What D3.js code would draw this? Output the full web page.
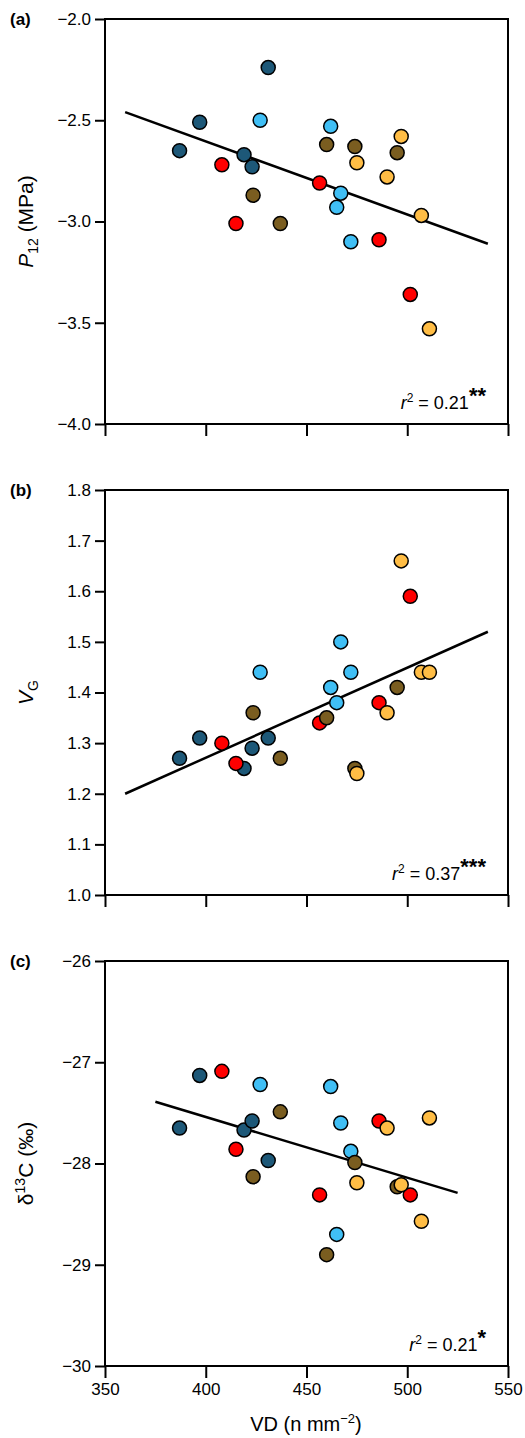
<!DOCTYPE html>
<html><head><meta charset="utf-8">
<script src="https://cdn.jsdelivr.net/npm/d3@7"></script>
<style>body{margin:0;background:#fff}svg{font-family:"Liberation Sans",Arial,sans-serif}</style>
</head><body><svg id="c" width="525" height="1438"></svg>
<script>
const groups = ["darkblue","lightblue","red","brown","orange"];
const groupColors = ["#1d5878","#40bff5","#ff0000","#7a5d20","#ffbd45"];
const vd = [387,397,431,419,423, 427,462,467,465,472, 408,415,456.5,486,501.5, 423.5,437,460,474,495, 475,490,497,507,511];
const groupOf = [0,0,0,0,0, 1,1,1,1,1, 2,2,2,2,2, 3,3,3,3,3, 4,4,4,4,4];
const p12 = [-2.65,-2.51,-2.24,-2.67,-2.73, -2.50,-2.53,-2.86,-2.93,-3.10, -2.72,-3.01,-2.81,-3.09,-3.36, -2.87,-3.01,-2.62,-2.63,-2.66, -2.71,-2.78,-2.58,-2.97,-3.53];
const vg = [1.27,1.31,1.31,1.25,1.29, 1.44,1.41,1.50,1.38,1.44, 1.30,1.26,1.34,1.38,1.59, 1.36,1.27,1.35,1.25,1.41, 1.24,1.36,1.66,1.44,1.44];
const d13c = [-27.65,-27.13,-27.97,-27.67,-27.58, -27.22,-27.24,-27.60,-28.70,-27.88, -27.09,-27.86,-28.31,-27.58,-28.31, -28.13,-27.49,-28.90,-27.99,-28.23, -28.19,-27.65,-28.21,-28.57,-27.55];
const fitA = [[360,-2.46],[540,-3.11]];
const fitB = [[360,1.20],[540,1.52]];
const fitC = [[375,-27.39],[525,-28.29]];
const xTicks = [350,400,450,500,550];

const svg = d3.select("#c");
const x = d3.scaleLinear().domain([350,550]).range([105,508]);
const panels = [
 {top:19, dom:[-4,-2], ticks:[-2,-2.5,-3,-3.5,-4], fmt:d3.format(".1f"), vals:p12, fit:fitA, tag:"(a)", r2:"0.21", stars:"**", ylab:"P12"},
 {top:490, dom:[1,1.8], ticks:[1,1.1,1.2,1.3,1.4,1.5,1.6,1.7,1.8], fmt:d3.format(".1f"), vals:vg, fit:fitB, tag:"(b)", r2:"0.37", stars:"***", ylab:"VG"},
 {top:961, dom:[-30,-26], ticks:[-26,-27,-28,-29,-30], fmt:d3.format("d"), vals:d13c, fit:fitC, tag:"(c)", r2:"0.21", stars:"*", ylab:"d13C"}
];
const H = 405;
const minus = s => s.replace("-","\u2212");
panels.forEach((p,i)=>{
  const y = d3.scaleLinear().domain(p.dom).range([p.top+H,p.top]);
  const g = svg.append("g");
  const ya = g.append("g").attr("transform","translate(105,0)")
    .call(d3.axisLeft(y).tickValues(p.ticks).tickFormat(d=>minus(p.fmt(d))).tickSize(10).tickPadding(4));
  ya.select(".domain").remove();
  ya.selectAll("line").attr("stroke","#000").attr("stroke-width",2);
  ya.selectAll("text").attr("font-size",17).attr("fill","#000");
  const xa = g.append("g").attr("transform",`translate(0,${p.top+H})`)
    .call(d3.axisBottom(x).tickValues(xTicks).tickSize(12).tickPadding(5).tickFormat(i===2?d3.format("d"):""));
  xa.select(".domain").remove();
  xa.selectAll("line").attr("stroke","#000").attr("stroke-width",2);
  xa.selectAll("text").attr("font-size",17).attr("fill","#000");
  g.append("rect").attr("x",105).attr("y",p.top).attr("width",403).attr("height",H)
    .attr("fill","none").attr("stroke","#000").attr("stroke-width",2);
  g.append("line").attr("x1",x(p.fit[0][0])).attr("y1",y(p.fit[0][1])).attr("x2",x(p.fit[1][0])).attr("y2",y(p.fit[1][1]))
    .attr("stroke","#000").attr("stroke-width",2.5);
  g.selectAll("circle").data(vd).join("circle")
    .attr("cx",d=>x(d)).attr("cy",(d,j)=>y(p.vals[j])).attr("r",7)
    .attr("fill",(d,j)=>groupColors[groupOf[j]]).attr("stroke","#000").attr("stroke-width",1.5);
  g.append("text").attr("x",10).attr("y",p.top+6).attr("font-size",17).attr("font-weight","bold").text(p.tag);
  const t = g.append("text").attr("x",486).attr("y",p.top+H-15).attr("font-size",18).attr("text-anchor","end");
  t.append("tspan").attr("font-style","italic").text("r");
  t.append("tspan").attr("font-size",12).attr("dy",-7).text("2");
  t.append("tspan").attr("dy",7).text(" = "+p.r2);
  t.append("tspan").attr("font-size",22).attr("font-weight","bold").attr("dy",-6).text(p.stars);
  const yl = g.append("text").attr("transform",`translate(33,${p.top+H/2}) rotate(-90)`).attr("text-anchor","middle").attr("font-size",21);
  if(p.ylab==="P12"){
    yl.append("tspan").attr("font-style","italic").text("P");
    yl.append("tspan").attr("font-size",14).attr("dy",5).text("12");
    yl.append("tspan").attr("dy",-5).text(" (MPa)");
  } else if(p.ylab==="VG"){
    yl.append("tspan").attr("font-style","italic").text("V");
    yl.append("tspan").attr("font-size",14).attr("dy",5).text("G");
  } else {
    yl.append("tspan").text("\u03b4");
    yl.append("tspan").attr("font-size",14).attr("dy",-8).text("13");
    yl.append("tspan").attr("dy",8).text("C (\u2030)");
  }
});
const xl = svg.append("text").attr("x",306).attr("y",1431).attr("text-anchor","middle").attr("font-size",20);
xl.append("tspan").text("VD (n mm");
xl.append("tspan").attr("font-size",13).attr("dy",-8).text("\u22122");
xl.append("tspan").attr("dy",8).text(")");
</script></body></html>
